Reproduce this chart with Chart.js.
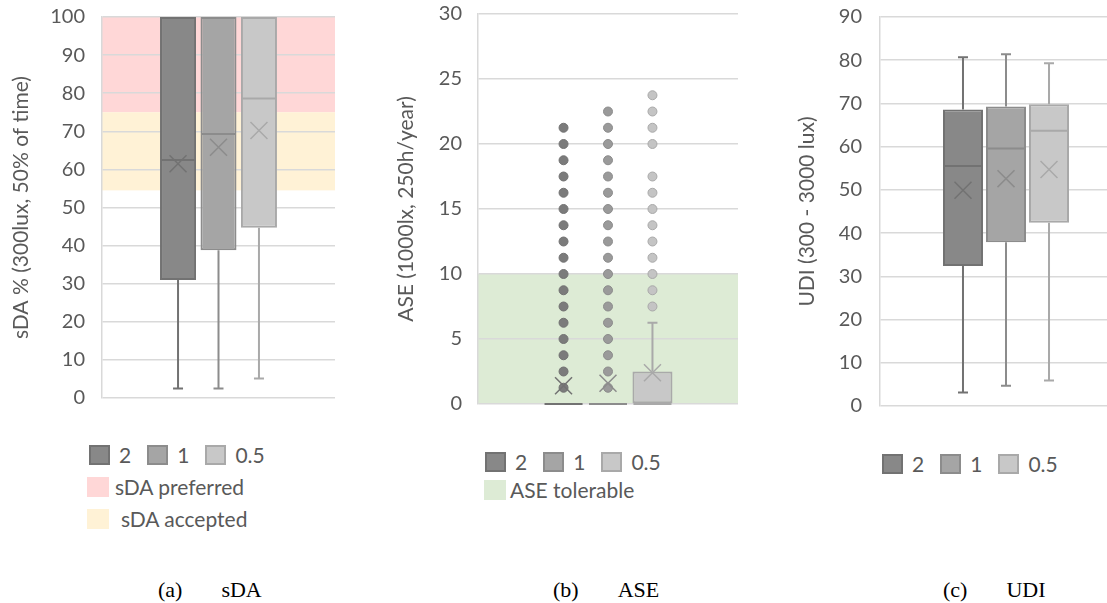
<!DOCTYPE html>
<html>
<head>
<meta charset="utf-8">
<script src="https://cdn.jsdelivr.net/npm/chart.js@4.4.1/dist/chart.umd.min.js"></script>
<style>
  html, body { margin: 0; padding: 0; background: #fff; overflow: hidden; }
  #page { position: relative; width: 1107px; height: 603px; overflow: hidden; font-family: Lato, sans-serif; }
  canvas { position: absolute; top: 0; }
  .legend-row { position: absolute; display: flex; align-items: center; font-size: 21px; color: #595959; white-space: pre; line-height: 20px; }
  .sw { display: inline-block; width: 17px; height: 16px; border: 2px solid; margin-right: 9px; }
  .sw-flat { display: inline-block; width: 22px; height: 20px; margin-right: 6px; }
  .item { display: flex; align-items: center; margin-right: 16px; }
  .caption { position: absolute; top: 577px; font-family: "Liberation Serif", serif; font-size: 22px; color: #000; white-space: pre; }
  .caption span + span { margin-left: 39px; }
</style>
</head>
<body>
<div id="page">
  <canvas id="sda" width="345" height="428" style="left:0px"></canvas>
  <canvas id="ase" width="365" height="433" style="left:380px"></canvas>
  <canvas id="udi" width="360" height="436" style="left:780px"></canvas>

  <div class="legend-row" id="legend-sda" style="left:89px; top:445px"></div>
  <div class="legend-row" style="left:87px; top:477px"><span class="sw-flat" style="background:#ffd7d7"></span>sDA preferred</div>
  <div class="legend-row" style="left:87px; top:509px"><span class="sw-flat" style="background:#fff2d6; margin-right:12px"></span>sDA accepted</div>

  <div class="legend-row" id="legend-ase" style="left:485px; top:452px"></div>
  <div class="legend-row" style="left:484px; top:480px"><span class="sw-flat" style="background:#ddebd5; margin-right:4px"></span>ASE tolerable</div>

  <div class="legend-row" id="legend-udi" style="left:882px; top:454px"></div>

  <div class="caption" style="left:158px"><span>(a)</span><span>sDA</span></div>
  <div class="caption" style="left:553px"><span>(b)</span><span>ASE</span></div>
  <div class="caption" style="left:943px"><span>(c)</span><span>UDI</span></div>
</div>

<script>
// ===== DATA =====
const seriesLabels = ['2', '1', '0.5'];

// (a) sDA
const sdaMin = [2.5, 2.5, 5.1];
const sdaQ1 = [31, 38.8, 44.7];
const sdaMedian = [62.5, 69.3, 78.6];
const sdaQ3 = [100, 100, 100];
const sdaMax = [100, 100, 100];
const sdaMean = [61.5, 65.8, 70.2];
const sdaPreferred = [75, 100];
const sdaAccepted = [54.5, 75];

// (b) ASE
const aseMin = [0, 0, 0];
const aseQ1 = [0, 0, 0];
const aseMedian = [0, 0, 0];
const aseQ3 = [0, 0, 2.5];
const aseMax = [0, 0, 6.25];
const aseMean = [1.4, 1.6, 2.4];
const aseOutliers2 = [1.25, 2.5, 3.75, 5, 6.25, 7.5, 8.75, 10, 11.25, 12.5, 13.75, 15, 16.25, 17.5, 18.75, 20, 21.25];
const aseOutliers1 = [1.25, 2.5, 3.75, 5, 6.25, 7.5, 8.75, 10, 11.25, 12.5, 13.75, 15, 16.25, 17.5, 18.75, 20, 21.25, 22.5];
const aseOutliers05 = [7.5, 8.75, 10, 11.25, 12.5, 13.75, 15, 16.25, 17.5, 20, 21.25, 22.5, 23.75];
const aseTolerable = [0, 10];

// (c) UDI
const udiMin = [3.1, 4.7, 5.9];
const udiQ1 = [32.4, 37.9, 42.4];
const udiMedian = [55.5, 59.6, 63.7];
const udiQ3 = [68.6, 69.3, 69.8];
const udiMax = [80.7, 81.4, 79.3];
const udiMean = [49.9, 52.6, 54.7];

// ===== STYLE =====
const boxFill = ['#888888', '#a5a5a5', '#c8c8c8'];
const boxLine = ['#727272', '#8c8c8c', '#a9a9a9'];
const dotFill = ['#7b7b7b', '#9a9a9a', '#c4c4c4'];
const textColor = '#595959';
const gridColor = '#d9d9d9';

Chart.defaults.font.family = 'Lato';
Chart.defaults.color = textColor;

/**
 * Draws shaded bands, whiskers, medians, means and outliers
 */
const boxPlugin = {
  id: 'boxDetails',
  beforeDraw(chart, args, opts) {
    const { ctx, chartArea, scales: { y } } = chart;
    (opts.bands || []).forEach(band => {
      const top = y.getPixelForValue(band.range[1]);
      const bottom = y.getPixelForValue(band.range[0]);
      ctx.save();
      ctx.fillStyle = band.color;
      ctx.fillRect(chartArea.left, top, chartArea.right - chartArea.left, bottom - top);
      ctx.restore();
    });
  },
  afterDatasetsDraw(chart) {
    const { ctx, scales: { y } } = chart;
    chart.data.datasets.forEach((ds, i) => {
      const bar = chart.getDatasetMeta(i).data[0];
      const x = bar.x;
      const half = bar.width / 2;
      const [q1, q3] = ds.data[0];
      ctx.save();
      ctx.strokeStyle = ds.borderColor;
      ctx.lineWidth = 2;

      // whiskers
      const whisker = (from, to) => {
        if (to === from) return;
        ctx.beginPath();
        ctx.moveTo(x, y.getPixelForValue(from));
        ctx.lineTo(x, y.getPixelForValue(to));
        ctx.moveTo(x - 5, y.getPixelForValue(to));
        ctx.lineTo(x + 5, y.getPixelForValue(to));
        ctx.stroke();
      };
      whisker(q3, ds.whiskerMax);
      whisker(q1, ds.whiskerMin);

      // median
      ctx.beginPath();
      ctx.moveTo(x - half + 1, y.getPixelForValue(ds.median));
      ctx.lineTo(x + half - 1, y.getPixelForValue(ds.median));
      ctx.stroke();

      // outliers
      ctx.fillStyle = ds.dotColor;
      ctx.lineWidth = 1;
      (ds.outliers || []).forEach(v => {
        Chart.helpers.drawPoint(ctx, { pointStyle: 'circle', radius: 4.5, borderWidth: 1 }, x, y.getPixelForValue(v));
      });

      // mean
      ctx.lineWidth = 1.5;
      Chart.helpers.drawPoint(ctx, { pointStyle: 'crossRot', radius: 12, borderWidth: 1.5 }, x, y.getPixelForValue(ds.mean));
      ctx.restore();
    });
  }
};

function buildDatasets(mins, q1s, medians, q3s, maxs, means, outliers) {
  return seriesLabels.map((label, i) => ({
    label: label,
    data: [[q1s[i], q3s[i]]],
    backgroundColor: boxFill[i],
    borderColor: boxLine[i],
    borderWidth: 2,
    borderSkipped: false,
    whiskerMin: mins[i],
    whiskerMax: maxs[i],
    median: medians[i],
    mean: means[i],
    outliers: outliers ? outliers[i] : [],
    dotColor: dotFill[i]
  }));
}

function buildChart(id, cfg) {
  return new Chart(document.getElementById(id), {
    type: 'bar',
    data: { labels: [''], datasets: cfg.datasets },
    plugins: [boxPlugin],
    options: {
      responsive: false,
      devicePixelRatio: 1,
      animation: false,
      categoryPercentage: cfg.catPct,
      barPercentage: cfg.barPct,
      layout: { padding: cfg.padding },
      plugins: {
        legend: { display: false },
        tooltip: { enabled: false },
        boxDetails: { bands: cfg.bands }
      },
      scales: {
        x: { display: false, offset: true },
        y: {
          min: cfg.min,
          max: cfg.max,
          ticks: { stepSize: cfg.step, color: textColor, font: { size: 20 }, padding: cfg.tickPad },
          grid: { color: gridColor, lineWidth: 1.5, drawTicks: false },
          border: { color: gridColor, width: 1.5 },
          title: { display: true, text: cfg.title, color: textColor, font: { size: 21 }, padding: { top: cfg.titlePad, bottom: 0 } },
          afterFit(scale) {
            // fixed axis width; the layout padding alone sets the plot top and bottom
            scale.width = cfg.axisWidth;
            scale.paddingTop = 0;
            scale.paddingBottom = 0;
          }
        }
      }
    }
  });
}

function buildLegend(id) {
  const row = document.getElementById(id);
  row.innerHTML = seriesLabels.map((label, i) => `
    <span class="item"><span class="sw" style="background:${boxFill[i]};border-color:${boxLine[i]}"></span>${label}</span>
  `).join('');
}

// ===== CHARTS =====
buildChart('sda', {
  datasets: buildDatasets(sdaMin, sdaQ1, sdaMedian, sdaQ3, sdaMax, sdaMean),
  bands: [
    { range: sdaPreferred, color: '#ffd7d7' },
    { range: sdaAccepted, color: '#fff2d6' }
  ],
  min: 0, max: 100, step: 10,
  title: 'sDA % (300lux, 50% of time)',
  axisWidth: 102, tickPad: 17, titlePad: 9,
  padding: { top: 17, bottom: 30, right: 10, left: 0 },
  catPct: 0.521, barPct: 0.89
});

buildChart('ase', {
  datasets: buildDatasets(aseMin, aseQ1, aseMedian, aseQ3, aseMax, aseMean, [aseOutliers2, aseOutliers1, aseOutliers05]),
  bands: [{ range: aseTolerable, color: '#ddebd5' }],
  min: 0, max: 30, step: 5,
  title: 'ASE (1000lx, 250h/year)',
  axisWidth: 98, tickPad: 16, titlePad: 14,
  padding: { top: 14, bottom: 29, right: 7, left: 0 },
  catPct: 0.513, barPct: 0.9
});

buildChart('udi', {
  datasets: buildDatasets(udiMin, udiQ1, udiMedian, udiQ3, udiMax, udiMean),
  bands: [],
  min: 0, max: 90, step: 10,
  title: 'UDI (300 - 3000 lux)',
  axisWidth: 100, tickPad: 18, titlePad: 15,
  padding: { top: 17, bottom: 30, right: 8, left: 0 },
  catPct: 0.512, barPct: 0.93
});

buildLegend('legend-sda');
buildLegend('legend-ase');
buildLegend('legend-udi');
</script>
</body>
</html>
